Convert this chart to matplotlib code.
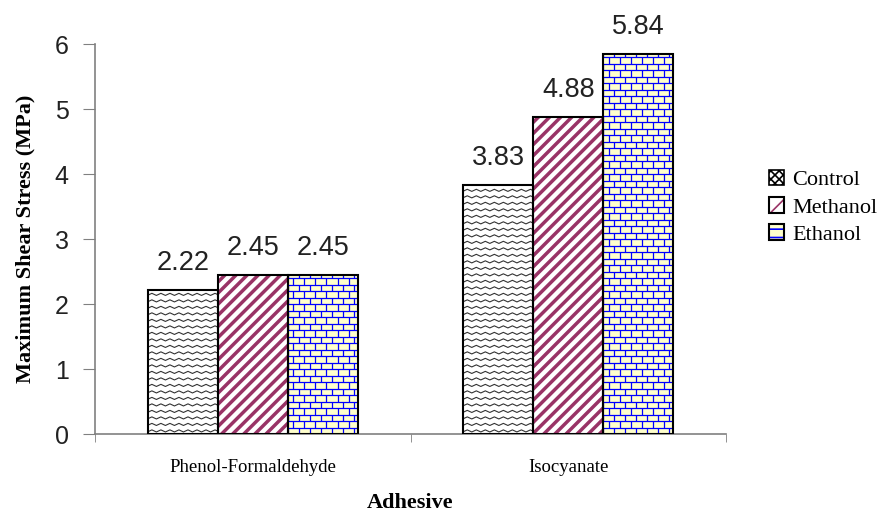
import numpy as np
import matplotlib.pyplot as plt
from matplotlib.patches import Patch
from matplotlib.legend_handler import HandlerTuple

adhesives = ['Phenol-Formaldehyde', 'Isocyanate']
treatments = ['Control', 'Methanol', 'Ethanol']
control = [2.22, 3.83]
methanol = [2.45, 4.88]
ethanol = [2.45, 5.84]

sans = 'Liberation Sans'
serif = 'Liberation Serif'
maroon = '#993366'
blue = '#0000FF'
cream = '#FFFFCC'

plt.rcParams['hatch.linewidth'] = 2.5

fig = plt.figure(figsize=(8.81, 5.12), dpi=100)
ax = fig.add_axes([0.108, 0.152, 0.716, 0.762])

x = np.arange(len(adhesives))
w = 0.222


def zigzag(ax, bar):
    # wavy black lines clipped to the bar
    x0, y0 = bar.get_x(), bar.get_y()
    x1, y1 = x0 + bar.get_width(), y0 + bar.get_height()
    xs = np.arange(x0 - 0.03, x1 + 0.03, 0.0143)
    amp = np.where(np.arange(len(xs)) % 2 == 0, -0.016, 0.016)
    for yy in np.arange(y0 + 0.05, y1 + 0.1, 0.1):
        ln, = ax.plot(xs, yy + amp, color='#333333', lw=0.8, zorder=2)
        ln.set_clip_path(bar)


def bricks(ax, bar):
    # blue brick pattern clipped to the bar
    x0, y0 = bar.get_x(), bar.get_y()
    x1, y1 = x0 + bar.get_width(), y0 + bar.get_height()
    dy, dx = 0.1, 0.035
    rows = np.arange(y0, y1 + dy, dy)
    for i, yy in enumerate(rows):
        ln = ax.hlines(yy, x0, x1, color=blue, lw=0.9, zorder=2)
        ln.set_clip_path(bar)
        off = 0 if i % 2 == 0 else dx / 2
        vx = np.arange(x0 + off, x1 + dx, dx)
        vl = ax.vlines(vx, yy, yy + dy, color=blue, lw=0.9, zorder=2)
        vl.set_clip_path(bar)


bc_f = ax.bar(x - w, control, w, color='white', lw=0, zorder=1)
for b in bc_f:
    zigzag(ax, b)
bc = ax.bar(x - w, control, w, fill=False, edgecolor='black', lw=1.5, zorder=3)

bm_f = ax.bar(x, methanol, w, color='white', edgecolor=maroon, hatch='///', lw=0, zorder=1)
bm = ax.bar(x, methanol, w, fill=False, edgecolor='black', lw=1.5, zorder=3)

be_f = ax.bar(x + w, ethanol, w, color=cream, lw=0, zorder=1)
for b in be_f:
    bricks(ax, b)
be = ax.bar(x + w, ethanol, w, fill=False, edgecolor='black', lw=1.5, zorder=3)

for xs, vals in [(x - w, control), (x, methanol), (x + w, ethanol)]:
    for xi, v in zip(xs, vals):
        ax.text(xi, v + 0.42, f'{v:.2f}', ha='center', va='center',
                fontsize=19.5, family=sans, color='#222222')

ax.set_xlim(-0.5, 1.5)
ax.set_ylim(0, 6)
ax.set_yticks(range(7))
ax.set_xticks(x)
ax.set_xticklabels(adhesives, family=serif, fontsize=13.5)
ax.set_xticks([-0.5, 0.5, 1.5], minor=True)
ax.tick_params(axis='x', which='major', length=0, pad=18)
ax.tick_params(axis='x', which='minor', length=6, color='#808080', direction='out')
ax.tick_params(axis='y', length=9, color='#808080', pad=10, labelsize=18)
for lab in ax.get_yticklabels():
    lab.set_family(sans)
    lab.set_color('#222222')

for s in ['top', 'right']:
    ax.spines[s].set_visible(False)
for s in ['left', 'bottom']:
    ax.spines[s].set_color('#808080')
    ax.spines[s].set_linewidth(1.2)

ax.set_ylabel('Maximum Shear Stress (MPa)', family=serif, fontweight='bold', fontsize=16, labelpad=14)
ax.set_xlabel('Adhesive', family=serif, fontweight='bold', fontsize=16, labelpad=12)

plt.rcParams['hatch.linewidth'] = 1.2
h_control = Patch(facecolor='white', edgecolor='black', hatch='xxxx', lw=1.2)
h_meth = (Patch(facecolor='white', edgecolor=maroon, hatch='//', lw=0),
          Patch(fill=False, edgecolor='black', lw=1.5))
h_eth = (Patch(facecolor=cream, edgecolor=blue, hatch='--', lw=0),
         Patch(fill=False, edgecolor='black', lw=1.5))
fig.legend([h_control, h_meth, h_eth], treatments,
           handler_map={tuple: HandlerTuple(ndivide=1, pad=0)},
           loc='upper left', bbox_to_anchor=(0.86, 0.69), frameon=False,
           prop={'family': serif, 'size': 16}, handlelength=0.7, handleheight=0.7,
           handletextpad=0.35, labelspacing=0.3, borderpad=0)

fig.savefig('out.png', dpi=100)
